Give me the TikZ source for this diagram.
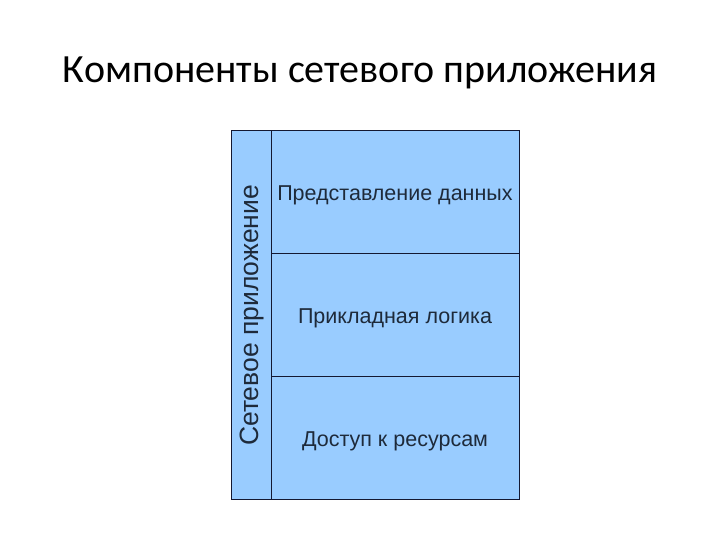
\documentclass[tikz,border=0pt]{standalone}
\usepackage{fontspec}
\setmainfont{Liberation Sans}
\newfontfamily\titlefont{Carlito}
\usetikzlibrary{positioning}
\definecolor{layerblue}{RGB}{153,204,255}
\definecolor{edgenavy}{RGB}{20,24,50}
\definecolor{labelgray}{RGB}{30,42,58}

\begin{document}
\begin{tikzpicture}[x=1pt, y=1pt,
    layer/.style={draw=edgenavy, fill=layerblue, line width=1pt, minimum width=248pt,
        minimum height=123pt, inner sep=0pt, outer sep=0pt},
    sidebar/.style={draw=edgenavy, fill=layerblue, line width=1pt, minimum width=40pt,
        minimum height=369pt, inner sep=0pt, outer sep=0pt},
    layertext/.style={font=\fontsize{21.5}{24}\selectfont, text=labelgray}]
    % Page frame
    \useasboundingbox (0,0) rectangle (720,540);
    % Title
    \node[font=\titlefont\fontsize{40}{44}\selectfont] (title) at (360,467) {Компоненты сетевого приложения};
    % Side column
    \node[sidebar, anchor=north west] (app) at (231,409) {};
    \node[rotate=90, font=\fontsize{26.5}{30}\selectfont, text=labelgray] (applabel) at ([xshift=1pt]app.center) {Сетевое приложение};
    % Layers
    \node[layer, anchor=north west] (view) at (app.north east) {};
    \node[layer, below=0pt of view] (logic) {};
    \node[layer, below=0pt of logic] (access) {};
    \node[layertext] (viewtext) at ([yshift=-2.5pt]view.center) {Представление данных};
    \node[layertext] (logictext) at ([yshift=-2.5pt]logic.center) {Прикладная логика};
    \node[layertext] (accesstext) at ([yshift=-2.5pt]access.center) {Доступ к ресурсам};
\end{tikzpicture}
\end{document}
